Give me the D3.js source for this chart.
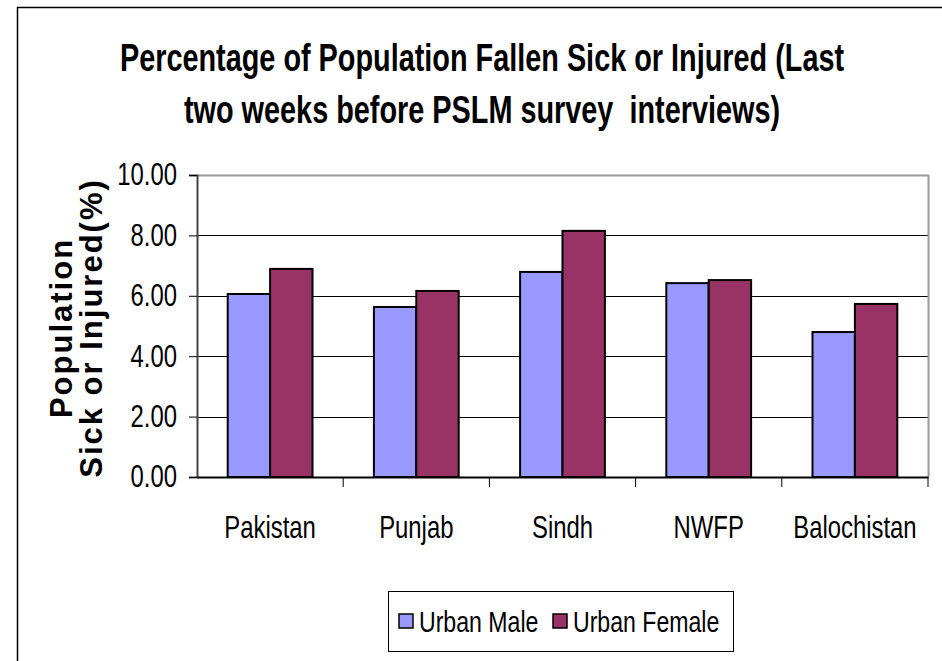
<!DOCTYPE html>
<html>
<head>
<meta charset="utf-8">
<script src="https://cdn.jsdelivr.net/npm/d3@7"></script>
<style>
  body { margin: 0; background: #fff; }
  text { font-family: "Liberation Sans", Arial, sans-serif; }
</style>
</head>
<body>
<script>
// chart data
var regions = ["Pakistan", "Punjab", "Sindh", "NWFP", "Balochistan"];
var seriesNames = ["Urban Male", "Urban Female"];
var urbanMale = [6.06, 5.63, 6.79, 6.42, 4.80];
var urbanFemale = [6.89, 6.16, 8.15, 6.52, 5.73];
var yTicks = [0, 2, 4, 6, 8, 10];
var colors = ["#9999ff", "#993366"];

var w = 942, h = 661;
var plot = {left: 197, right: 928, top: 175, bottom: 477};
var narrow = 0.77; // the original uses a condensed face, squeeze regular Liberation Sans

var svg = d3.select("body").append("svg")
	.attr("width", w)
	.attr("height", h);

// outer chart frame (only top and left visible)
svg.append("path")
	.attr("d", "M17.5," + h + "V7.5H" + w)
	.attr("fill", "none")
	.attr("stroke", "#000")
	.attr("stroke-width", 1.5);

// title
var title = svg.append("text")
	.attr("transform", "translate(482,0) scale(0.73,1)")
	.attr("text-anchor", "middle")
	.attr("font-weight", "bold")
	.attr("font-size", 39.5)
	.attr("fill", "#000");
title.append("tspan").attr("x", 0).attr("y", 71)
	.text("Percentage of Population Fallen Sick or Injured (Last");
title.append("tspan").attr("x", 0).attr("y", 123)
	.text("two weeks before PSLM survey  interviews)")
	.style("white-space", "pre");

var x0 = d3.scaleBand()
	.domain(regions)
	.range([plot.left, plot.right]);

var x1 = d3.scaleBand()
	.domain(seriesNames)
	.range([x0.bandwidth() * 0.21, x0.bandwidth() * 0.79]);

var y = d3.scaleLinear()
	.domain([0, 10])
	.range([plot.bottom, plot.top]);

// gridlines
svg.append("g")
	.selectAll("line")
	.data(yTicks.filter(function(d){ return d > 0 && d < 10; }))
	.enter().append("line")
	.attr("x1", plot.left).attr("x2", plot.right)
	.attr("y1", function(d){ return Math.round(y(d)) + 0.5; })
	.attr("y2", function(d){ return Math.round(y(d)) + 0.5; })
	.attr("stroke", "#000")
	.attr("stroke-width", 1);

// plot area border top/right
svg.append("path")
	.attr("d", "M" + plot.left + "," + (plot.top + 0.5) + "H" + (plot.right + 0.5) + "V" + plot.bottom)
	.attr("fill", "none")
	.attr("stroke", "#999")
	.attr("stroke-width", 2);

// bars
var rows = regions.map(function(r, i){
	return {region: r, values: [urbanMale[i], urbanFemale[i]]};
});

var groups = svg.append("g").selectAll("g")
	.data(rows)
	.enter().append("g")
	.attr("transform", function(d){ return "translate(" + x0(d.region) + ",0)"; });

groups.selectAll("rect")
	.data(function(d){ return d.values.map(function(v, j){ return {name: seriesNames[j], value: v, j: j}; }); })
	.enter().append("rect")
	.attr("x", function(d){ return x1(d.name); })
	.attr("width", x1.bandwidth())
	.attr("y", function(d){ return y(d.value); })
	.attr("height", function(d){ return y(0) - y(d.value); })
	.attr("fill", function(d){ return colors[d.j]; })
	.attr("stroke", "#000")
	.attr("stroke-width", 2);

// y axis
var yAxis = d3.axisLeft(y)
	.tickValues(yTicks)
	.tickFormat(d3.format(".2f"))
	.tickSize(8)
	.tickPadding(18);

var ya = svg.append("g")
	.attr("transform", "translate(" + plot.left + ",0)")
	.call(yAxis);
ya.select(".domain").attr("stroke", "#444").attr("stroke-width", 2);
ya.selectAll(".tick line").attr("stroke", "#000");
ya.selectAll(".tick text")
	.attr("font-size", 31)
	.attr("fill", "#000")
	.attr("font-family", null)
	.attr("transform", "scale(" + narrow + ",1)");

// x axis
var xAxis = d3.axisBottom(x0)
	.tickSize(0)
	.tickPadding(39);

var xa = svg.append("g")
	.attr("transform", "translate(0," + plot.bottom + ")")
	.call(xAxis);
xa.select(".domain").attr("stroke", "#000").attr("stroke-width", 2);
xa.selectAll(".tick text")
	.attr("font-size", 31)
	.attr("fill", "#000")
	.attr("font-family", null)
	.attr("transform", "scale(" + narrow + ",1)");

// category separator ticks
xa.append("g").selectAll("line")
	.data(regions)
	.enter().append("line")
	.attr("x1", function(d){ return x0(d) + x0.bandwidth(); })
	.attr("x2", function(d){ return x0(d) + x0.bandwidth(); })
	.attr("y1", 0).attr("y2", 10)
	.attr("stroke", "#000");

// y axis title
var yt = svg.append("text")
	.attr("transform", "translate(72,328) rotate(-90)")
	.attr("text-anchor", "middle")
	.attr("font-weight", "bold")
	.attr("font-size", 31)
	.attr("letter-spacing", 2);
yt.append("tspan").attr("x", 0).attr("dy", 0).text("Population");
yt.append("tspan").attr("x", 0).attr("dy", 30).text("Sick or Injured(%)");

// legend
var legend = svg.append("g").attr("transform", "translate(388,591)");
legend.append("rect")
	.attr("x", 0.5).attr("y", 0.5)
	.attr("width", 345).attr("height", 60)
	.attr("fill", "#fff")
	.attr("stroke", "#000")
	.attr("stroke-width", 1);

var items = legend.selectAll(".item")
	.data(seriesNames)
	.enter().append("g")
	.attr("class", "item")
	.attr("transform", function(d, i){ return "translate(" + [11, 165][i] + ",0)"; });

items.append("rect")
	.attr("x", 0).attr("y", 23)
	.attr("width", 14).attr("height", 14)
	.attr("fill", function(d, i){ return colors[i]; })
	.attr("stroke", "#000")
	.attr("stroke-width", 1.5);

items.append("text")
	.attr("transform", "translate(20,41) scale(" + narrow + ",1)")
	.attr("font-size", 30)
	.attr("fill", "#000")
	.text(function(d){ return d; });
</script>
</body>
</html>
